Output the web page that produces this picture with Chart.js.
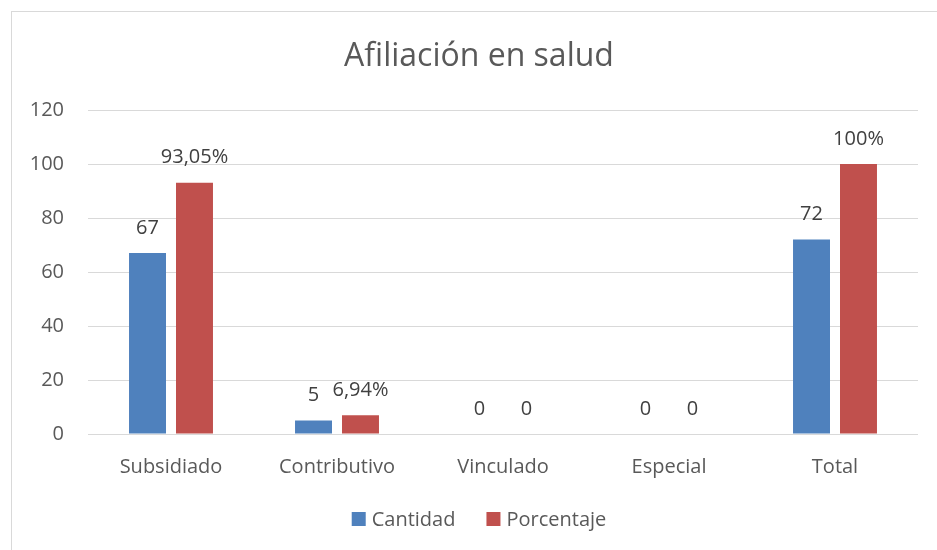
<!DOCTYPE html>
<html>
<head>
<meta charset="utf-8">
<script src="https://cdn.jsdelivr.net/npm/chart.js@4.4.0/dist/chart.umd.min.js"></script>
<style>
html,body{margin:0;padding:0;background:#fff;}
#wrap{position:relative;width:937px;height:550px;}
</style>
</head>
<body>
<div id="wrap"><canvas id="c" width="937" height="550"></canvas></div>
<script>
const titleText = "Afiliación en salud";
const categories = ["Subsidiado", "Contributivo", "Vinculado", "Especial", "Total"];
const seriesNames = ["Cantidad", "Porcentaje"];
const cantidad = [67, 5, 0, 0, 72];
const porcentaje = [93.05, 6.94, 0, 0, 100];
const cantidadLabels = ["67", "5", "0", "0", "72"];
const porcentajeLabels = ["93,05%", "6,94%", "0", "0", "100%"];
const yTicks = [0, 20, 40, 60, 80, 100, 120];

const BLUE = "#4F81BD", RED = "#C0504D", TXT = "#595959", LBL = "#404040";
const FONT = "'Open Sans', sans-serif";
const CX = 479;

const framePlugin = {
  id: 'frame',
  beforeDraw(chart) {
    const ctx = chart.ctx;
    ctx.save();
    ctx.fillStyle = '#fff';
    ctx.fillRect(0, 0, chart.width, chart.height);
    ctx.strokeStyle = '#d9d9d9';
    ctx.lineWidth = 1;
    ctx.strokeRect(11.5, 11.5, 2000, 2000);
    ctx.restore();
  },
  afterDraw(chart) {
    const ctx = chart.ctx;
    ctx.save();
    // title
    ctx.fillStyle = TXT;
    ctx.font = "32px " + FONT;
    ctx.textAlign = 'center';
    ctx.textBaseline = 'middle';
    ctx.fillText(titleText, CX, 57);
    // legend
    ctx.font = "20px " + FONT;
    const box = 14, gap = 6, spacing = 31;
    const colors = [BLUE, RED];
    const widths = seriesNames.map(n => ctx.measureText(n).width);
    const total = widths.reduce((a, w) => a + box + gap + w, 0) + spacing * (seriesNames.length - 1);
    let x = CX - total / 2;
    const ly = 519;
    ctx.textAlign = 'left';
    seriesNames.forEach((n, i) => {
      ctx.fillStyle = colors[i];
      ctx.fillRect(x, ly - box / 2, box, box);
      ctx.fillStyle = TXT;
      ctx.fillText(n, x + box + gap, ly + 1);
      x += box + gap + widths[i] + spacing;
    });
    ctx.restore();
  },
  afterDatasetsDraw(chart) {
    const ctx = chart.ctx;
    const labelSets = [cantidadLabels, porcentajeLabels];
    ctx.save();
    ctx.font = "20px " + FONT;
    ctx.fillStyle = LBL;
    ctx.textAlign = 'center';
    ctx.textBaseline = 'middle';
    chart.data.datasets.forEach((ds, i) => {
      const meta = chart.getDatasetMeta(i);
      meta.data.forEach((bar, j) => {
        ctx.fillText(labelSets[i][j], bar.x, bar.y - 25);
      });
    });
    ctx.restore();
  }
};

new Chart(document.getElementById('c'), {
  type: 'bar',
  data: {
    labels: categories,
    datasets: [
      { label: seriesNames[0], data: cantidad, backgroundColor: BLUE, categoryPercentage: 0.566, barPercentage: 0.787 },
      { label: seriesNames[1], data: porcentaje, backgroundColor: RED, categoryPercentage: 0.566, barPercentage: 0.787 }
    ]
  },
  options: {
    responsive: false,
    animation: false,
    layout: { padding: { left: 0, right: 19, top: 110, bottom: 0 } },
    plugins: { legend: { display: false }, title: { display: false }, tooltip: { enabled: false } },
    scales: {
      x: {
        grid: { display: false },
        border: { display: false },
        ticks: { color: TXT, font: { family: FONT, size: 20 }, padding: 13, maxRotation: 0 },
        afterFit(s) { s.height = 116; }
      },
      y: {
        min: 0, max: 120,
        afterBuildTicks(s) { s.ticks = yTicks.map(v => ({ value: v })); },
        grid: { color: '#d9d9d9', drawTicks: false, lineWidth: 1 },
        border: { display: false },
        ticks: { color: TXT, font: { family: FONT, size: 20 }, padding: 24 },
        afterFit(s) { s.width = 88; }
      }
    }
  },
  plugins: [framePlugin]
});
</script>
</body>
</html>
